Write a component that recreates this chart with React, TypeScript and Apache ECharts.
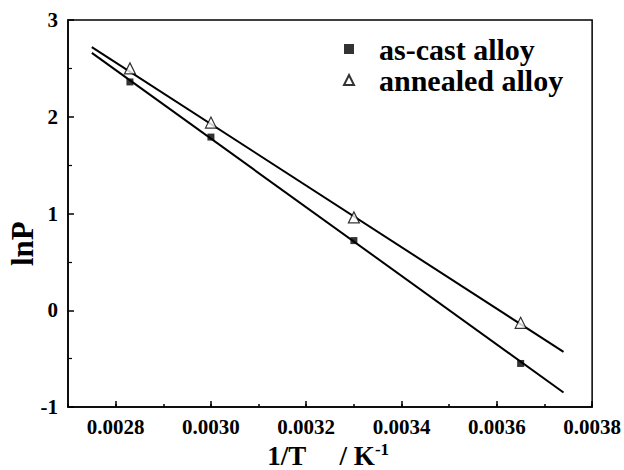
import React, { useEffect, useRef } from "react";
import * as echarts from "echarts";

const FONT = "'Liberation Serif', 'Times New Roman', 'DejaVu Serif', serif";

const asCastX = [0.00283, 0.0030, 0.00330, 0.00365];
const asCastY = [2.36, 1.79, 0.72, -0.55];
const annealedX = [0.00283, 0.0030, 0.00330, 0.00365];
const annealedY = [2.50, 1.94, 0.96, -0.13];

const asCastFitX = [0.00275, 0.00374];
const asCastFitY = [2.66, -0.85];
const annealedFitX = [0.00275, 0.00374];
const annealedFitY = [2.72, -0.43];

const xMajorTicks = [0.0028, 0.0030, 0.0032, 0.0034, 0.0036, 0.0038];
const yTicks = [-1, 0, 1, 2, 3];

const zip = (xs: number[], ys: number[]) => xs.map((x, i) => [x, ys[i]]);

export default function App() {
  const ref = useRef<HTMLDivElement>(null);
  useEffect(() => {
    if (!ref.current) return;
    const chart = echarts.init(ref.current, null, { renderer: "svg" });
    const axisLabelStyle = { fontFamily: FONT, fontWeight: "bold" as const, fontSize: 21, color: "#000" };
    chart.setOption({
      animation: false,
      backgroundColor: "#fff",
      grid: {
        left: 68,
        right: 31,
        top: 20,
        bottom: 63,
        show: true,
        borderColor: "#000",
        borderWidth: 1.5,
      },
      legend: {
        orient: "vertical",
        left: 338,
        top: 29,
        itemWidth: 10,
        itemHeight: 10,
        itemGap: 1,
        data: ["as-cast alloy", "annealed alloy"],
        textStyle: { fontFamily: FONT, fontWeight: "bold", fontSize: 30, color: "#000", padding: [0, 0, 0, 20] },
      },
      xAxis: [
        {
          type: "value",
          min: 0.0027,
          max: 0.0038,
          interval: 0.0001,
          axisLine: { show: true, onZero: false, lineStyle: { color: "#000", width: 1.5 } },
          axisTick: { show: true, inside: true, length: 6, customValues: xMajorTicks, lineStyle: { color: "#000", width: 1.5 } },
          axisLabel: {
            ...axisLabelStyle,
            margin: 9,
            customValues: xMajorTicks,
            formatter: (v: number) => v.toFixed(4),
          },
          splitLine: { show: false },
        },
        {
          type: "value",
          min: 0.0027,
          max: 0.0038,
          interval: 0.0001,
          position: "bottom",
          axisLine: { show: false, onZero: false },
          axisTick: { show: true, inside: true, length: 3, lineStyle: { color: "#000", width: 1.5 } },
          axisLabel: { show: false },
          splitLine: { show: false },
        },
      ],
      yAxis: {
        type: "value",
        min: -1,
        max: 3,
        interval: 1,
        axisLine: { show: true, onZero: false, lineStyle: { color: "#000", width: 1.5 } },
        axisTick: { show: true, inside: true, length: 6, lineStyle: { color: "#000", width: 1.5 } },
        minorTick: { show: true, splitNumber: 2, length: 4, lineStyle: { color: "#000", width: 1.2 } },
        axisLabel: { ...axisLabelStyle, margin: 10, customValues: yTicks },
        splitLine: { show: false },
      },
      graphic: [
        {
          type: "text",
          rotation: Math.PI / 2,
          style: { text: "lnP", fontFamily: FONT, fontWeight: "bold", fontSize: 31, fill: "#000", verticalAlign: "middle" },
          x: 22,
          y: 266,
        },
        {
          type: "text",
          x: 328,
          y: 455,
          style: {
            text: "{a|1/T     / K}{s|-1}",
            fontFamily: FONT,
            align: "center",
            verticalAlign: "middle",
            rich: {
              a: { fontFamily: FONT, fontWeight: "bold", fontSize: 27, color: "#000", verticalAlign: "bottom" },
              s: { fontFamily: FONT, fontWeight: "bold", fontSize: 17, color: "#000", verticalAlign: "top", padding: [0, 0, 12, 0] },
            },
          },
        },
      ],
      series: [
        {
          name: "as-cast fit",
          type: "line",
          data: zip(asCastFitX, asCastFitY),
          symbol: "none",
          lineStyle: { color: "#000", width: 2 },
          silent: true,
        },
        {
          name: "annealed fit",
          type: "line",
          data: zip(annealedFitX, annealedFitY),
          symbol: "none",
          lineStyle: { color: "#000", width: 2 },
          silent: true,
        },
        {
          name: "as-cast alloy",
          type: "scatter",
          data: zip(asCastX, asCastY),
          symbol: "rect",
          symbolSize: 7,
          itemStyle: { color: "#000" },
          z: 5,
        },
        {
          name: "annealed alloy",
          type: "scatter",
          data: zip(annealedX, annealedY),
          symbol: "triangle",
          symbolSize: 11,
          itemStyle: { color: "#fff", borderColor: "#000", borderWidth: 1.2 },
          z: 5,
        },
      ],
    });
    return () => chart.dispose();
  }, []);
  return <div ref={ref} style={{ width: 624, height: 470, position: "absolute", left: 0, top: 0 }} />;
}
